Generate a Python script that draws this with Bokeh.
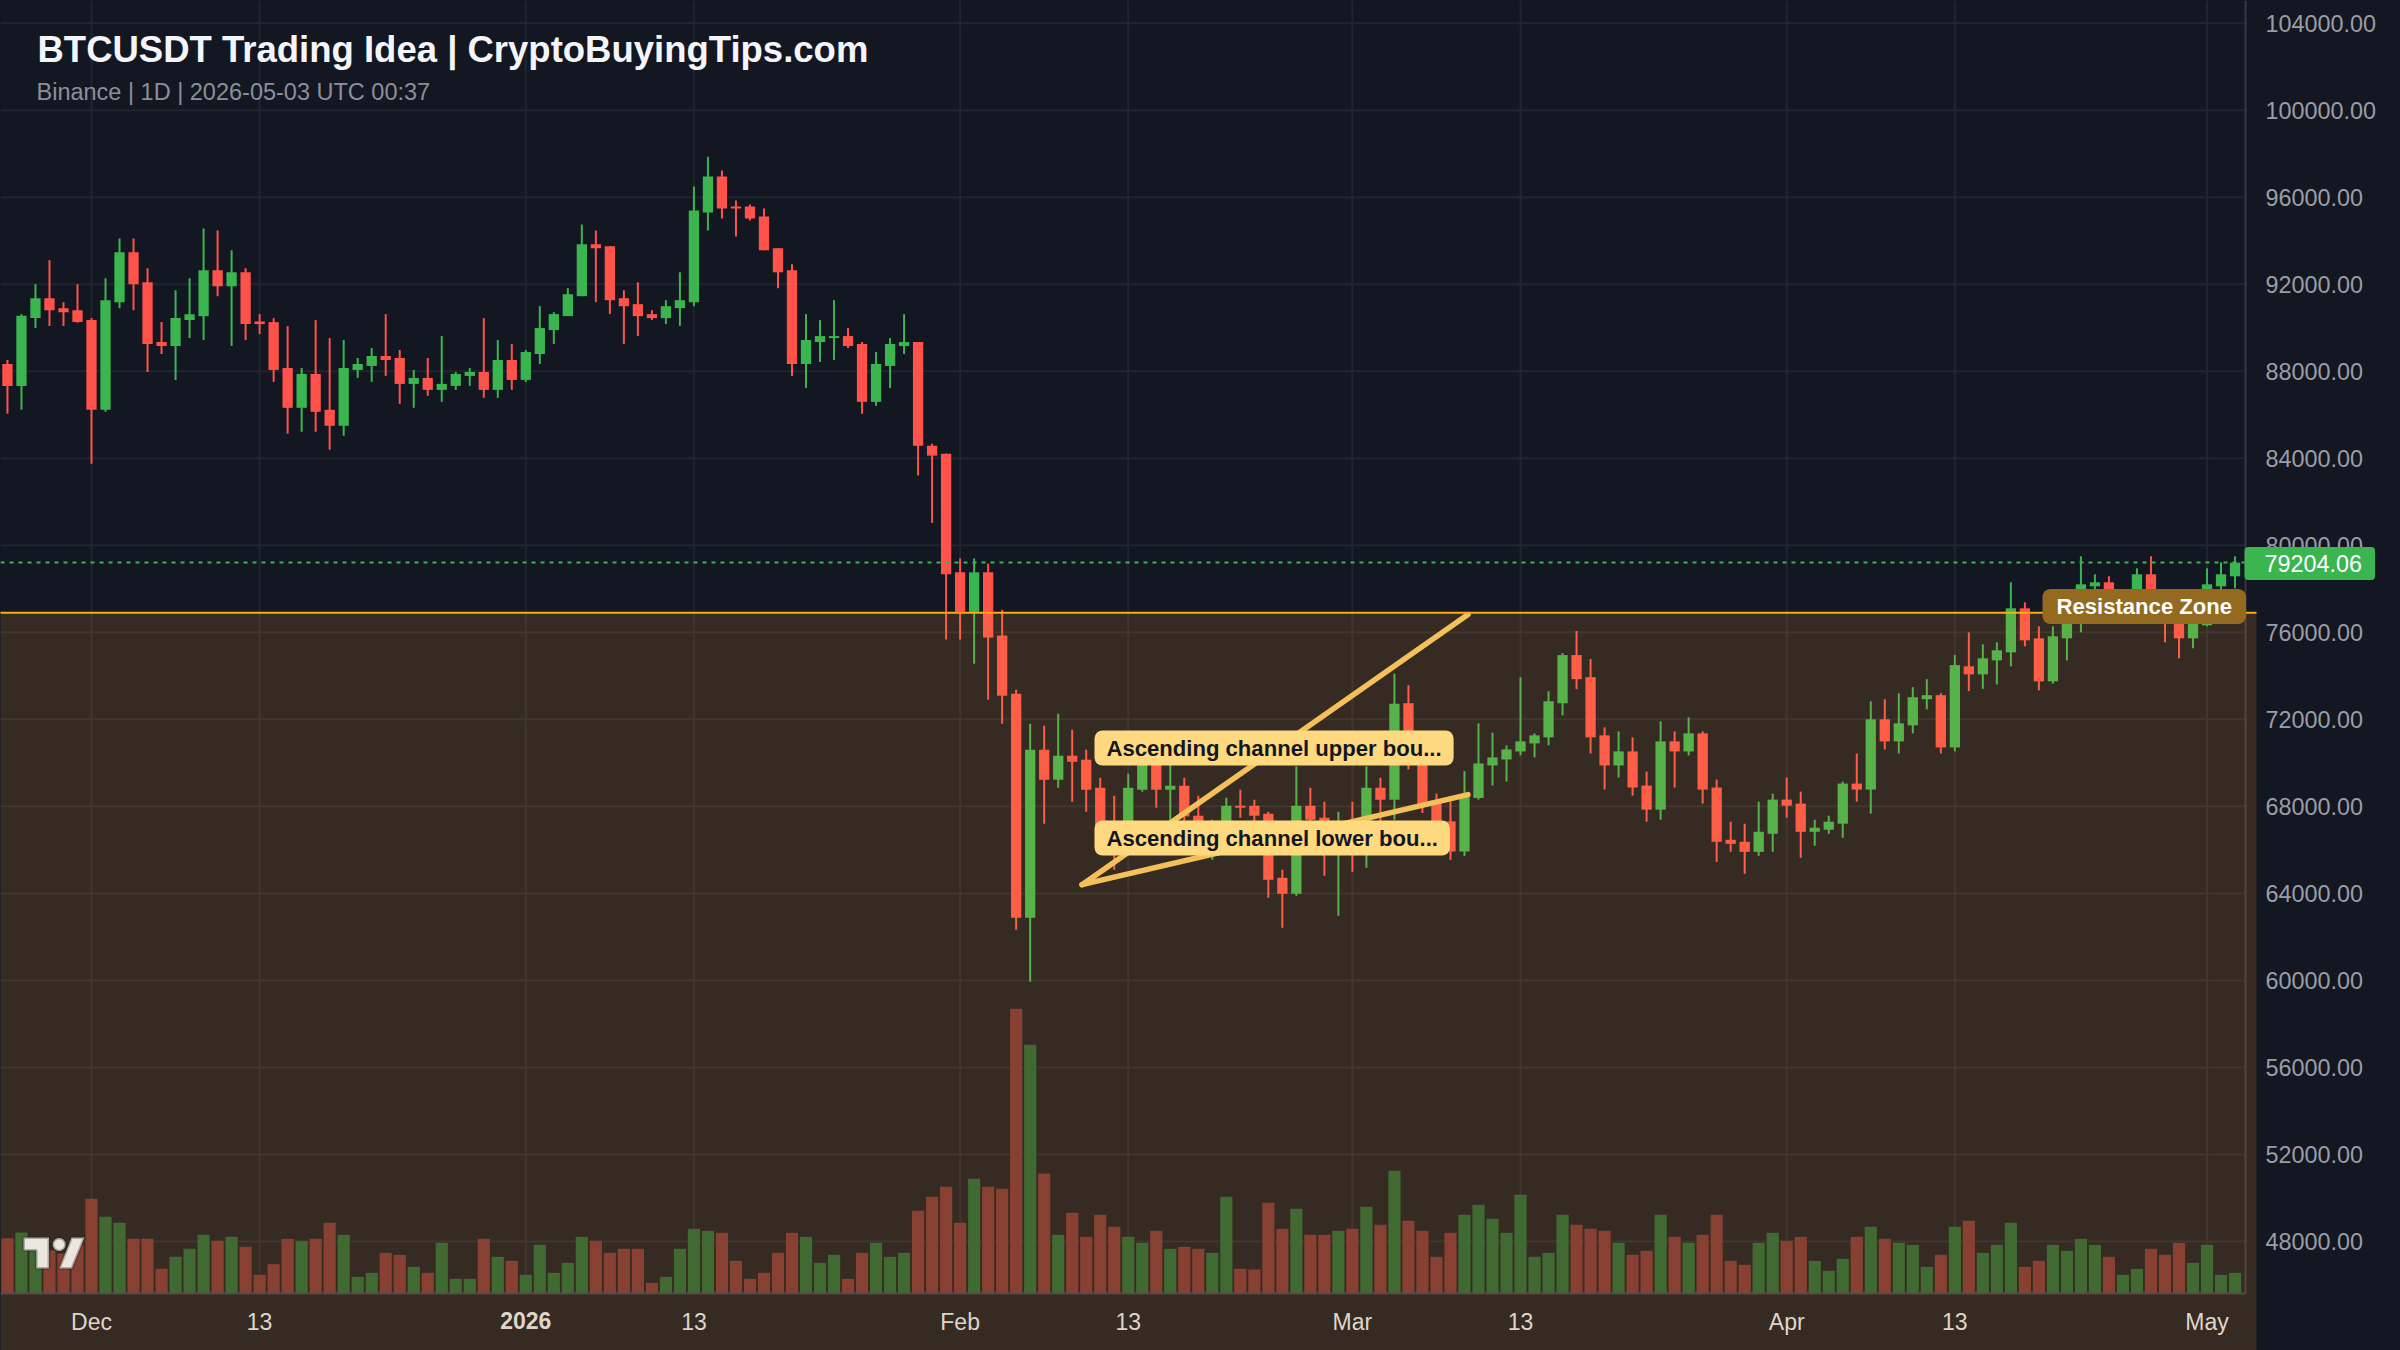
import numpy as np
import pandas as pd
from bokeh.embed import file_html
from bokeh.resources import INLINE
from bokeh.plotting import figure
from bokeh.models import (BoxAnnotation, ColumnDataSource, FixedTicker, Label, LinearAxis,
                          NumeralTickFormatter, PolyAnnotation, Range1d)

TITLE = "BTCUSDT Trading Idea | CryptoBuyingTips.com"
SUBTITLE = "Binance | 1D | 2026-05-03 UTC 00:37"
FONT = "Liberation Sans"

dates = pd.date_range("2025-11-25", "2026-05-03", freq="D")

opens = [88334,87327,90442,91358,90900,90808,90350,86227,91175,93465,
 92091,89342,89159,90350,90533,92641,91908,92549,90289,90258,
 88151,86319,87876,86227,85494,88060,88243,88701,88609,87418,
 87693,87143,87327,87785,87968,87143,88518,87602,88793,89892,
 90533,91450,93832,93740,91358,91083,90625,90442,90900,91175,
 95298,96947,95572,95572,95114,93648,92641,88334,89342,89525,
 89617,89251,86594,88243,89159,89342,84576,84212,78758,76940,
 78758,75850,73179,62878,70604,69224,70328,70144,68856,67078,
 66771,68764,70144,68764,68948,67569,66465,67078,68029,68029,
 67661,64717,63981,68029,67477,66465,67078,67078,68856,68304,
 72740,70925,68156,67310,65926,68387,69879,70156,70525,70894,
 71171,72739,74954,73939,71263,69879,70525,68956,67849,70986,
 70525,71355,68864,66464,66372,65911,66741,68310,68125,66833,
 66926,67203,69048,68771,72001,70986,71724,72924,73109,70709,
 74436,74068,74712,75080,77104,75724,73746,75724,76552,78115,
 78299,77165,77625,78667,77165,76705,75724,76322,78115,78575]
highs = [88518,90625,92000,93099,91175,92000,90442,92274,94107,94107,
 92732,90258,91724,92274,94565,94473,93557,92732,90625,90442,
 90075,88151,90350,89525,89434,88609,89067,90625,88976,88060,
 88609,89617,87968,88151,90442,89434,89251,88976,90991,90716,
 91816,94748,94473,93740,91724,92091,90808,91266,92549,96489,
 97863,97222,95847,95664,95481,93648,92915,90625,90350,91266,
 89984,89342,88884,89525,90625,89342,84667,84212,79394,79394,
 79152,77031,73363,71800,71708,72260,71524,70604,69316,68488,
 69500,71217,70604,70297,69316,68488,67385,68396,68764,68304,
 67753,65085,69837,68856,68213,67753,68213,69837,69316,74099,
 73570,71463,68587,68233,69617,71817,71386,70802,73939,71355,
 73293,75046,76061,74770,71632,71448,71171,69602,71909,71448,
 72093,71448,69233,67295,67203,68218,68587,69325,68679,67387,
 67572,69140,70432,72832,72924,73201,73478,73847,73201,74954,
 75999,75448,75540,78299,77380,76276,76276,77625,79495,78667,
 78575,77932,78943,79495,77472,77932,77165,78943,79219,79495]
lows = [86044,86227,89984,90075,90075,90228,83753,86136,90900,90808,
 87968,88793,87602,89525,89434,91450,89159,89434,89709,87510,
 85128,85220,85220,84395,85036,87693,87510,87785,86502,86319,
 86869,86594,87143,87327,86777,86777,87143,87510,88334,89251,
 90533,91450,91175,90625,89251,89617,90350,90167,90075,90991,
 94473,95023,94198,94931,93557,91816,87785,87235,88426,88518,
 89067,86044,86410,87235,88793,83212,81030,75667,75667,74559,
 72904,71800,62326,59934,67201,68856,68213,67753,66005,65085,
 66312,68672,67937,67078,67078,66312,65545,66465,67477,67231,
 63798,62418,63889,67078,64809,62969,64993,65177,67078,67385,
 69694,67695,65849,65542,65726,68310,68956,69140,70340,70248,
 70802,72186,73385,70432,68772,69325,68495,67295,67387,68864,
 70340,68125,65449,65911,64896,65726,65911,67479,65634,66188,
 66741,66557,68218,67664,70617,70432,71355,72462,70432,70525,
 73300,73400,73600,74436,75356,73332,73640,74712,75999,77472,
 77012,76705,77165,76858,75540,74804,75264,76276,77931,78023]
closes = [87327,90549,91358,90808,90717,90258,86227,91266,93465,92000,
 89251,89159,90442,90625,92641,91908,92549,90167,90167,88060,
 86319,87876,86136,85494,88151,88334,88701,88518,87418,87693,
 87143,87418,87876,87968,87143,88518,87602,88884,89984,90625,
 91541,93832,93648,91266,90991,90533,90442,90991,91266,95389,
 96947,95481,95481,95023,93557,92549,88334,89434,89617,89617,
 89159,86594,88334,89251,89342,84578,84121,78667,76940,78758,
 75758,73087,62878,70604,69224,70328,70052,68764,66618,66005,
 68856,70297,68764,68948,67538,66925,66925,68029,67937,67569,
 64625,63981,68029,67385,66465,67078,66005,68856,68304,72720,
 70309,67982,66310,65926,68464,69971,70248,70617,70986,71263,
 72832,74954,73847,71171,69879,70525,68864,67849,70986,70525,
 71355,68771,66372,66280,65911,66833,68310,68033,66833,67018,
 67295,69048,68771,72001,70986,71817,73016,73109,70709,74493,
 74068,74804,75172,77104,75632,73746,75816,77165,78207,78299,
 77472,77625,78667,77472,76552,75724,76705,78207,78667,79204]
volumes = [166,183,130,130,120,150,284,230,212,164,164,74,110,134,176,158,170,140,56,88,
 164,158,164,212,176,50,62,122,116,80,62,152,44,44,164,110,98,56,146,62,
 92,170,158,122,134,134,32,50,134,194,188,182,98,44,62,122,182,170,92,116,
 44,122,152,110,122,248,290,320,212,344,320,314,854,746,360,176,242,170,236,200,
 170,152,188,134,140,134,122,290,74,72,272,194,254,176,176,188,194,260,206,368,
 218,188,110,182,236,266,224,182,296,110,122,236,206,194,188,152,116,128,236,170,
 152,176,236,98,86,152,182,158,170,98,68,104,170,200,164,152,146,80,116,200,
 218,122,146,212,80,98,146,128,164,146,110,56,74,134,116,152,92,146,56,62]
assert len(dates) == len(opens) == len(highs) == len(lows) == len(closes) == len(volumes) == 160

tick_days = [0, 12, 43, 62, 74, 90, 102, 121, 133, 151]
tick_texts = ["Dec", "13", "13", "Feb", "13", "Mar", "13", "Apr", "13", "May"]
bold_tick_day = 31
bold_tick_text = "2026"
price_ticks = [48000, 52000, 56000, 60000, 64000, 68000, 72000, 76000, 80000, 84000,
               88000, 92000, 96000, 100000, 104000]
last_price = 79204.06
resistance = 76900
upper_days, upper_prices = [70.7, 98.25], [64400, 76815]
lower_days, lower_prices = [70.7, 98.25], [64400, 68540]

BG = "#131722"
UP, DOWN = "#3bb54f", "#ff524b"
VUP, VDOWN = "#216034", "#742f34"
GRID = "#21252f"

# page pixel <-> data helpers, for annotations only
DAY0, DAYPX = 91.0, 14.01
PY96, PXPER = 196.7, 0.021756
def X(px): return (px - DAY0) / DAYPX
def Y(py): return 96000 - (py - PY96) / PXPER

x = (dates - pd.Timestamp("2025-12-01")).days.to_numpy()
o, h, l, c, v = map(np.array, (opens, highs, lows, closes, volumes))
colors = [UP if a >= b else DOWN for a, b in zip(c, o)]
vcolors = [VUP if a >= b else VDOWN for a, b in zip(c, o)]
src = ColumnDataSource(dict(x=x, top=np.maximum(o, c), bottom=np.minimum(o, c), high=h, low=l,
                            color=colors, vcolor=vcolors, volume=v))

p = figure(width=2400, height=1350, output_backend="svg", toolbar_location=None,
           x_range=Range1d(X(0), X(2400)), y_range=Range1d(Y(1350), Y(0)),
           y_axis_location="right", x_axis_location="below",
           background_fill_color=BG, border_fill_color=BG,
           min_border_left=0, min_border_top=0, min_border_right=0, min_border_bottom=0,
           styles={"background-color": BG})
p.outline_line_color = None
# volume 0 sits on the time axis line
p.extra_y_ranges = {"vol": Range1d(-171, 3879)}
p.xgrid.visible = False
p.ygrid.visible = False

AXIS_X, AXIS_Y = X(2245), Y(1293)

def style_time_axis(axis, standoff):
    axis.major_tick_line_color = None
    axis.minor_tick_line_color = None
    axis.major_label_text_font = FONT
    axis.major_label_text_font_size = "23px"
    axis.major_label_text_color = "#dcdde2"
    axis.major_label_standoff = standoff
    axis.fixed_location = AXIS_Y

ax = p.xaxis[0]
ax.ticker = FixedTicker(ticks=tick_days)
ax.major_label_overrides = dict(zip(tick_days, tick_texts))
ax.axis_line_color = "#3a3e4a"
ax.axis_line_width = 2
ax.bounds = (X(0), AXIS_X)
style_time_axis(ax, 9)

ax2 = LinearAxis(ticker=FixedTicker(ticks=[bold_tick_day]), major_label_overrides={bold_tick_day: bold_tick_text},
                 major_label_text_font_style="bold", axis_line_color=None)
style_time_axis(ax2, 12)
p.add_layout(ax2, "below")

ay = p.yaxis[0]
ay.ticker = FixedTicker(ticks=price_ticks)
ay.formatter = NumeralTickFormatter(format="0.00")
ay.major_tick_line_color = None
ay.minor_tick_line_color = None
ay.axis_line_color = "#343844"
ay.axis_line_width = 2
ay.bounds = (AXIS_Y, Y(0))
ay.major_label_text_font = FONT
ay.major_label_text_font_size = "23.4px"
ay.major_label_text_color = "#9a9da6"
ay.major_label_standoff = 14
ay.fixed_location = AXIS_X

# grid stops at the two axes
p.segment(x0=tick_days + [bold_tick_day], x1=tick_days + [bold_tick_day], y0=AXIS_Y, y1=Y(0),
          line_color=GRID, line_width=2, level="underlay")
p.segment(x0=X(0), x1=AXIS_X, y0=price_ticks, y1=price_ticks, line_color=GRID, line_width=2, level="underlay")

p.vbar(x="x", width=0.87, top="volume", bottom=0, source=src, fill_color="vcolor",
       line_color=None, y_range_name="vol")
p.segment(x0="x", x1="x", y0="low", y1="high", source=src, line_color="color", line_width=2)
p.vbar(x="x", width=0.735, top="top", bottom="bottom", source=src, fill_color="color", line_color=None)

p.segment(x0=[X(0)], x1=[AXIS_X], y0=[last_price], y1=[last_price], line_color=UP, line_width=2, line_dash="4 5")

p.line(upper_days, upper_prices, line_color="#f1c562", line_width=5.5, line_cap="round")
p.line(lower_days, lower_prices, line_color="#f1c562", line_width=5.5, line_cap="round")

band = BoxAnnotation(left=X(-10), right=X(2256), top=resistance, bottom=Y(1370), fill_color="#ffa726",
                     fill_alpha=0.145, line_color=None, level="overlay")
p.add_layout(band)
res_line = BoxAnnotation(left=X(-10), right=X(2256), top=resistance + 45, bottom=resistance - 45,
                         fill_color="#ffab12", fill_alpha=1, line_color=None, level="overlay")
p.add_layout(res_line)

def label(text, px, py, size, color, bold=False, align="left", baseline="middle", **kw):
    lab = Label(x=X(px), y=Y(py), text=text, text_font=FONT, text_font_size=size, text_color=color,
                text_font_style="bold" if bold else "normal", text_align=align, text_baseline=baseline,
                level="overlay", **kw)
    p.add_layout(lab)
    return lab

label(TITLE, 37, 49, "36.5px", "#f4f5f8", bold=True)
label(SUBTITLE, 36, 91.5, "23.5px", "#8c8f99")

chip = dict(background_fill_color="#fed97f", background_fill_alpha=1, border_radius=8)
label("Ascending channel upper bou...", 1094, 747.5, "22.1px", "#131722", bold=True, padding=(12, 5), **chip)
label("Ascending channel lower bou...", 1094, 837.5, "22.1px", "#131722", bold=True, padding=(12, 5), **chip)
label("Resistance Zone", 2042, 606, "22.1px", "#ffffff", bold=True, padding=(14, 5),
      background_fill_color="#936a1f", background_fill_alpha=1, border_radius=8)
label("79204.06", 2244, 563, "23.4px", "#ffffff", padding=(20, 13, 8, 8),
      background_fill_color=UP, background_fill_alpha=1, border_radius=4)

# TradingView mark
logo = dict(fill_color="#ebe7df", fill_alpha=1, line_color="#1e1c1a", line_width=3, level="overlay",
            xs_units="data", ys_units="data", editable=False)
def poly(pts):
    return PolyAnnotation(xs=[X(a) for a, _ in pts], ys=[Y(b) for _, b in pts], **logo)
p.add_layout(poly([(23, 1237), (48.5, 1237), (48.5, 1268), (35.7, 1268), (35.7, 1250), (23, 1250)]))
p.add_layout(poly([(71, 1237), (84, 1237), (71.4, 1268), (58.7, 1268)]))
ang = np.linspace(0, 2 * np.pi, 20, endpoint=False)
p.add_layout(poly(list(zip(58.7 + 6.5 * np.cos(ang), 1244 + 6.5 * np.sin(ang)))))

open("out.html", "w").write(file_html(p, INLINE))
